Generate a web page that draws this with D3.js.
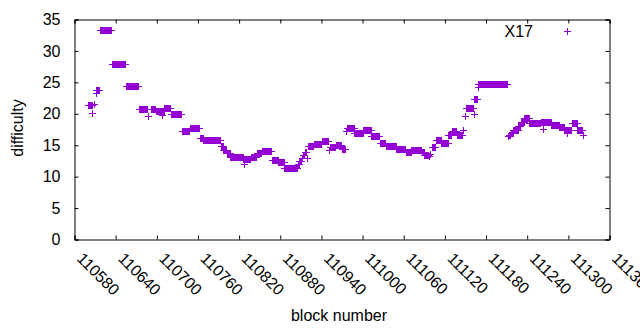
<!DOCTYPE html>
<html>
<head>
<meta charset="utf-8">
<script src="https://cdn.jsdelivr.net/npm/d3@7"></script>
<style>
  body { margin: 0; background: #fff; }
  text { font-family: "Liberation Sans", Arial, sans-serif; }
</style>
</head>
<body>
<div id="chart"></div>
<script>
var runFrom = [110600, 110606, 110608, 110611, 110612, 110617, 110634, 110655, 110674, 110687,
  110691, 110699, 110708, 110711, 110720, 110736, 110748, 110763, 110768, 110793,
  110797, 110802, 110807, 110826, 110827, 110837, 110846, 110853, 110868, 110877,
  110886, 110906, 110908, 110911, 110913, 110916, 110919, 110921, 110929, 110941,
  110951, 110952, 110961, 110970, 110976, 110977, 110988, 111001, 111013, 111025,
  111034, 111049, 111063, 111071, 111086, 111090, 111097, 111099, 111101, 111107,
  111115, 111125, 111130, 111137, 111147, 111149, 111151, 111162, 111163, 111168,
  111169, 111212, 111213, 111216, 111220, 111227, 111231, 111236, 111243, 111260,
  111263, 111275, 111287, 111294, 111298, 111305, 111313, 111321];
var runTo = [110605, 110606, 110608, 110611, 110616, 110633, 110654, 110673, 110685, 110687,
  110698, 110710, 110708, 110719, 110735, 110747, 110762, 110767, 110792, 110796,
  110801, 110806, 110825, 110836, 110827, 110845, 110852, 110867, 110876, 110885,
  110905, 110907, 110910, 110912, 110915, 110918, 110919, 110928, 110940, 110950,
  110951, 110960, 110969, 110975, 110976, 110987, 111000, 111012, 111024, 111033,
  111048, 111062, 111070, 111085, 111089, 111096, 111097, 111099, 111106, 111114,
  111124, 111129, 111136, 111145, 111147, 111149, 111161, 111162, 111167, 111168,
  111211, 111212, 111215, 111219, 111226, 111230, 111235, 111242, 111259, 111274,
  111263, 111286, 111293, 111304, 111298, 111312, 111320, 111321];
var runDifficulty = [21.4, 20.2, 21.6, 23.3, 23.8, 33.3, 27.9, 24.4, 20.8, 19.6,
  20.7, 20.4, 19.8, 20.9, 20.0, 17.2, 17.7, 16.2, 15.8, 14.9,
  14.3, 13.8, 13.1, 12.8, 12.0, 13.1, 13.8, 14.1, 12.6, 12.3,
  11.3, 12.0, 12.5, 12.9, 13.5, 13.9, 13.0, 14.9, 15.2, 15.7,
  14.3, 14.7, 15.0, 14.4, 17.3, 17.8, 17.0, 17.4, 16.5, 15.4,
  14.8, 14.35, 13.9, 14.2, 13.9, 13.5, 13.3, 13.6, 14.7, 15.9,
  15.4, 16.6, 17.3, 16.7, 17.5, 19.6, 20.9, 19.9, 22.3, 24.2,
  24.7, 16.4, 16.6, 17.0, 17.5, 18.1, 18.7, 19.3, 18.5, 18.7,
  17.6, 18.2, 17.9, 17.5, 17.0, 18.5, 17.5, 16.6];

var xTicks = d3.range(110580, 111361, 60);
var yTicks = [0, 5, 10, 15, 20, 25, 30, 35];
var seriesName = "X17";

// one point per block
var points = [];
runFrom.forEach(function(b, i) {
  d3.range(b, runTo[i] + 1).forEach(function(n) {
    points.push({block: n, difficulty: runDifficulty[i]});
  });
});

var W = 640, H = 330;
var margin = {top: 19.5, right: 30.5, bottom: 90.5, left: 74.5};

var svg = d3.select("#chart").append("svg")
  .attr("width", W)
  .attr("height", H);

var x = d3.scaleLinear()
  .domain([110580, 111360])
  .range([margin.left, W - margin.right]);

var y = d3.scaleLinear()
  .domain([0, 35])
  .range([H - margin.bottom, margin.top]);

var color = "#9400d3";

// axes, ticks pointing inward, mirrored on top/right
var gx = svg.append("g")
  .attr("transform", "translate(0," + y(0) + ")")
  .call(d3.axisBottom(x).tickValues(xTicks).tickSize(-4).tickFormat(d3.format("d")));
gx.selectAll("text")
  .attr("x", 0).attr("y", 0).attr("dy", 0)
  .attr("transform", "translate(1,20) rotate(45)")
  .style("text-anchor", "start");

svg.append("g")
  .attr("transform", "translate(0," + y(35) + ")")
  .call(d3.axisTop(x).tickValues(xTicks).tickSize(-4).tickFormat(""));

svg.append("g")
  .attr("transform", "translate(" + x(110580) + ",0)")
  .call(d3.axisLeft(y).tickValues(yTicks).tickSize(-4).tickPadding(14));

svg.append("g")
  .attr("transform", "translate(" + x(111360) + ",0)")
  .call(d3.axisRight(y).tickValues(yTicks).tickSize(-4).tickFormat(""));

svg.selectAll(".domain").attr("stroke", "#000");
svg.selectAll(".tick line").attr("stroke", "#000");
svg.selectAll(".tick text")
  .style("font-size", "16px")
  .attr("fill", "#000")
  .style("font-family", "'Liberation Sans', Arial, sans-serif");

// points
var plus = "M-3.5,0H3.5M0,-3.5V3.5";
svg.append("g")
  .selectAll("path")
  .data(points)
  .enter()
  .append("path")
    .attr("d", plus)
    .attr("transform", function(d) {
      return "translate(" + (Math.round(x(d.block)) + 0.5) + "," + (Math.round(y(d.difficulty)) + 0.5) + ")";
    })
    .attr("stroke", color)
    .attr("stroke-width", 1)
    .attr("fill", "none")
    .style("shape-rendering", "crispEdges");

// key
svg.append("text")
  .attr("x", 533)
  .attr("y", 37)
  .attr("text-anchor", "end")
  .style("font-size", "16px")
  .text(seriesName);

svg.append("path")
  .attr("d", plus)
  .attr("transform", "translate(567.5,31.5)")
  .attr("stroke", color)
  .attr("fill", "none")
  .style("shape-rendering", "crispEdges");

// axis labels
svg.append("text")
  .attr("x", 339)
  .attr("y", 321)
  .attr("text-anchor", "middle")
  .style("font-size", "16px")
  .text("block number");

svg.append("text")
  .attr("transform", "translate(23,128) rotate(-90)")
  .attr("text-anchor", "middle")
  .style("font-size", "16px")
  .text("difficulty");
</script>
</body>
</html>
